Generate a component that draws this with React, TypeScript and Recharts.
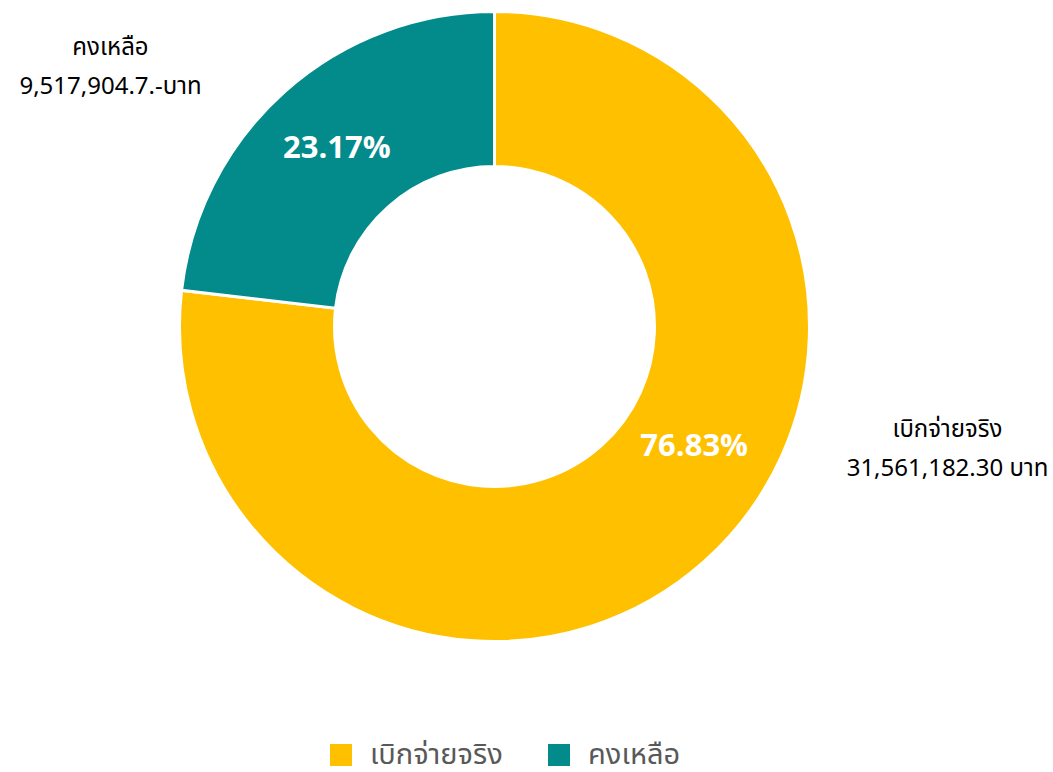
import { PieChart, Pie, Cell, Legend } from "recharts";

const categories = ["เบิกจ่ายจริง", "คงเหลือ"];
const amounts = [31561182.3, 9517904.7];
const percentLabels = ["76.83%", "23.17%"];
const amountLabels = ["31,561,182.30 บาท", "9,517,904.7.-บาท"];
const colors = ["#FFC000", "#038B8B"];

const FONT = "'Noto Sans Thai', 'Noto Sans', sans-serif";

const data = categories.map((name, i) => ({
    name,
    value: amounts[i],
    pct: percentLabels[i],
    amount: amountLabels[i],
}));

const RAD = Math.PI / 180;

// per-slice placement of the inner % label and the outer caption (relative to centre)
const innerPos = [
    { angle: -31, r: 233 },
    { angle: 131.5, r: 238 },
];
const outerPos = [
    { dx: 453, dy: 103 },
    { dx: -384, dy: -279 },
];

function SliceLabel(props: any) {
    const { cx, cy, index, payload } = props;
    const ip = innerPos[index];
    const op = outerPos[index];
    const ix = cx + ip.r * Math.cos(ip.angle * RAD);
    const iy = cy - ip.r * Math.sin(ip.angle * RAD);
    const ox = cx + op.dx;
    const oy = cy + op.dy;
    const item = payload?.payload ?? payload;
    return (
        <g>
            <text
                x={ix}
                y={iy}
                textAnchor="middle"
                dominantBaseline="central"
                fill="#ffffff"
                fontSize={31}
                fontWeight={700}
                fontFamily={FONT}
            >
                {item.pct}
            </text>
            <text
                x={ox}
                y={oy}
                textAnchor="middle"
                dominantBaseline="central"
                fill="#000000"
                fontSize={24}
                fontFamily={FONT}
            >
                {item.name}
            </text>
            <text
                x={ox}
                y={oy + 39}
                textAnchor="middle"
                dominantBaseline="central"
                fill="#000000"
                fontSize={24}
                fontFamily={FONT}
            >
                {item.amount}
            </text>
        </g>
    );
}

// legend drawn as SVG so the text box stays inside the page
function LegendContent() {
    const xs = [330, 548];
    return (
        <svg width={1053} height={34} style={{ display: "block" }}>
            {categories.map((c, i) => (
                <g key={c}>
                    <rect x={xs[i]} y={6} width={22} height={22} fill={colors[i]} />
                    <text
                        x={xs[i] + 40}
                        y={17}
                        dominantBaseline="central"
                        fill="#595959"
                        fontSize={29}
                        fontFamily={FONT}
                    >
                        {c}
                    </text>
                </g>
            ))}
        </svg>
    );
}

export default function App() {
    return (
        <div
            style={{
                position: "absolute",
                left: 0,
                top: 0,
                width: 1053,
                height: 772,
                background: "#ffffff",
            }}
        >
            <PieChart width={1053} height={772} margin={{ top: 0, right: 0, bottom: 0, left: 0 }}>
                <Pie
                    data={data}
                    dataKey="value"
                    nameKey="name"
                    cx={494.5}
                    cy={326.5}
                    innerRadius={160}
                    outerRadius={315}
                    startAngle={90}
                    endAngle={-270}
                    stroke="#ffffff"
                    strokeWidth={3}
                    label={SliceLabel}
                    labelLine={false}
                    isAnimationActive={false}
                >
                    {data.map((d, i) => (
                        <Cell key={d.name} fill={colors[i]} />
                    ))}
                </Pie>
                <Legend
                    content={<LegendContent />}
                    verticalAlign="bottom"
                    wrapperStyle={{ top: 738, left: 0, width: 1053, height: 34 }}
                />
            </PieChart>
        </div>
    );
}
